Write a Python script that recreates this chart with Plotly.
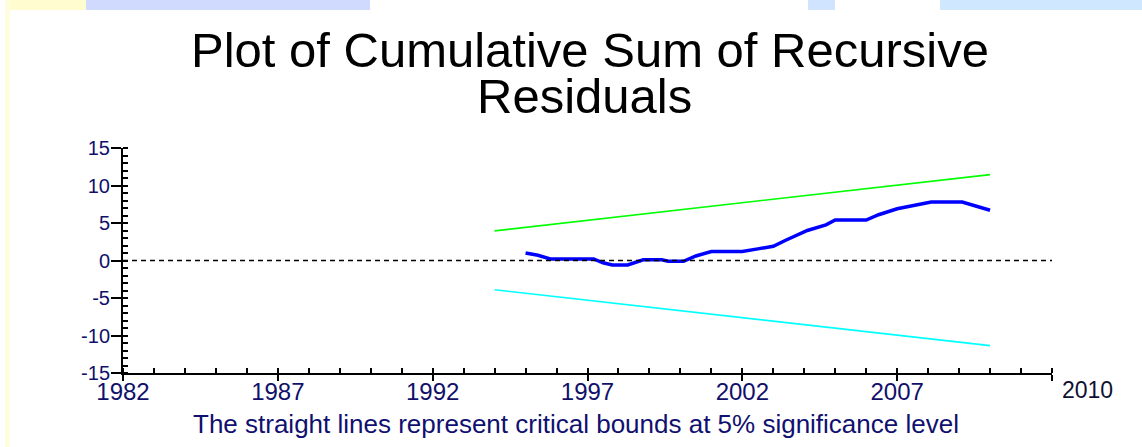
import plotly.graph_objects as go

# ---- data ----
cusum_years = [1995.0, 1995.4, 1995.8, 1997.2, 1997.5, 1997.8, 1998.3, 1998.8, 1999.4,
               1999.6, 2000.1, 2000.5, 2001.0, 2002.0, 2002.5, 2003.0, 2003.4, 2004.1,
               2004.7, 2005.0, 2006.0, 2006.4, 2007.0, 2007.5, 2008.1, 2009.1, 2009.5, 2010.0]
cusum_values = [1.0, 0.7, 0.2, 0.2, -0.3, -0.6, -0.6, 0.1, 0.1,
                -0.1, -0.1, 0.6, 1.2, 1.2, 1.55, 1.9, 2.7, 4.0,
                4.75, 5.4, 5.4, 6.1, 6.9, 7.3, 7.8, 7.8, 7.3, 6.7]
bound_years = [1994, 2010]
upper_bound = [3.95, 11.45]
lower_bound = [-3.9, -11.35]

x_tickvals = [1982, 1987, 1992, 1997, 2002, 2007, 2012]
x_ticktext = ["1982", "1987", "1992", "1997", "2002", "2007", ""]
y_tickvals = [-15, -10, -5, 0, 5, 10, 15]
y_ticktext = ["-15", "-10", "-5", "0", "5", "10", "15"]
end_label = "2010"

title_line1 = "Plot of Cumulative Sum of Recursive"
title_line2 = "Residuals"
footnote = "The straight lines represent critical bounds at 5% significance level"

FONT = "Liberation Sans, Arial, sans-serif"
LABEL_COLOR = "#10106a"

# plot area in pixels (for decoration conversion)
L, R, T, B = 123, 1052, 148, 373
W, H = 1142, 447


def px(xp):
    return (xp - L) / (R - L)


def py(yp):
    return (B - yp) / (B - T)


fig = go.Figure()

fig.add_trace(go.Scatter(x=bound_years, y=lower_bound, mode="lines",
                         line=dict(color="#00FFFF", width=1.6), hoverinfo="skip"))
fig.add_trace(go.Scatter(x=bound_years, y=upper_bound, mode="lines",
                         line=dict(color="#00FF00", width=1.6), hoverinfo="skip",
                         xaxis="x2", yaxis="y2"))
fig.add_trace(go.Scatter(x=cusum_years, y=cusum_values, mode="lines",
                         line=dict(color="#0000FF", width=3.5), hoverinfo="skip"))

axis_common = dict(showgrid=False, zeroline=False, showline=True,
                   linecolor="black", linewidth=2, tickcolor="black", tickwidth=2)

fig.update_layout(
    width=W, height=H,
    margin=dict(l=L, r=W - R, t=T, b=H - B),
    paper_bgcolor="white", plot_bgcolor="white",
    showlegend=False,
    font=dict(family=FONT, color="black"),
    xaxis=dict(range=[1982, 2012], tickmode="array", tickvals=x_tickvals, ticktext=x_ticktext,
               ticks="outside", ticklen=6, ticklabelstandoff=-10,
               tickfont=dict(family=FONT, size=24, color=LABEL_COLOR),
               minor=dict(dtick=1, tick0=1982, ticks="inside", ticklen=5, tickwidth=1.5,
                          tickcolor="black", showgrid=False),
               **axis_common),
    yaxis=dict(range=[-15, 15], tickmode="array", tickvals=y_tickvals, ticktext=y_ticktext,
               ticks="outside", ticklen=10, ticklabelstandoff=-3,
               tickfont=dict(family=FONT, size=20, color=LABEL_COLOR),
               minor=dict(dtick=1, tick0=-15, ticks="inside", ticklen=5, tickwidth=1.5,
                          tickcolor="black", showgrid=False),
               **axis_common),
    xaxis2=dict(range=[1982, 2012], overlaying="x", anchor="y2", side="bottom",
                tickmode="array", tickvals=x_tickvals, ticks="inside", ticklen=5,
                tickwidth=2, tickcolor="black", showticklabels=False,
                showgrid=False, zeroline=False, showline=False),
    yaxis2=dict(range=[-15, 15], overlaying="y", anchor="x2", side="left",
                tickmode="array", tickvals=y_tickvals, ticks="inside", ticklen=5,
                tickwidth=2, tickcolor="black", showticklabels=False,
                showgrid=False, zeroline=False, showline=False),
)

# dashed zero reference line
fig.add_shape(type="line", xref="paper", yref="y", x0=0, x1=1, y0=0, y1=0,
              line=dict(color="black", width=1.5, dash="5px,4px"))

# slide background decorations
deco = [
    (5, 118, 0, 10, "#FFFDD0"),
    (86, 370, 0, 10, "#D0DAFF"),
    (808, 835, 0, 10, "#D0E4FF"),
    (940, 1142, 0, 10, "#D0E8FF"),
    (5, 10, 0, 447, "#FFFDE0"),
]
for x0, x1, y0, y1, c in deco:
    fig.add_shape(type="rect", xref="paper", yref="paper",
                  x0=px(x0), x1=px(x1), y0=py(y1), y1=py(y0),
                  fillcolor=c, line=dict(width=0), layer="below")

# titles and labels
fig.add_annotation(text=title_line1, xref="paper", yref="paper", x=px(590), y=py(50),
                   xanchor="center", yanchor="middle", showarrow=False, height=44,
                   font=dict(family=FONT, size=49, color="black"))
fig.add_annotation(text=title_line2, xref="paper", yref="paper", x=px(584), y=py(96),
                   xanchor="center", yanchor="middle", showarrow=False, height=44,
                   font=dict(family=FONT, size=49, color="black"))
fig.add_annotation(text=footnote, xref="paper", yref="paper", x=px(576), y=py(424),
                   xanchor="center", yanchor="middle", showarrow=False,
                   font=dict(family=FONT, size=26, color="#101070"))
fig.add_annotation(text=end_label, xref="x", yref="paper", x=2012, y=0,
                   xanchor="left", yanchor="top", xshift=8, yshift=-2, showarrow=False,
                   font=dict(family=FONT, size=23, color="#101030"))

fig.write_html("out.html",
               config={"displayModeBar": False},
               post_script="document.body.style.margin='0';"
                           "document.body.style.overflow='hidden';")
